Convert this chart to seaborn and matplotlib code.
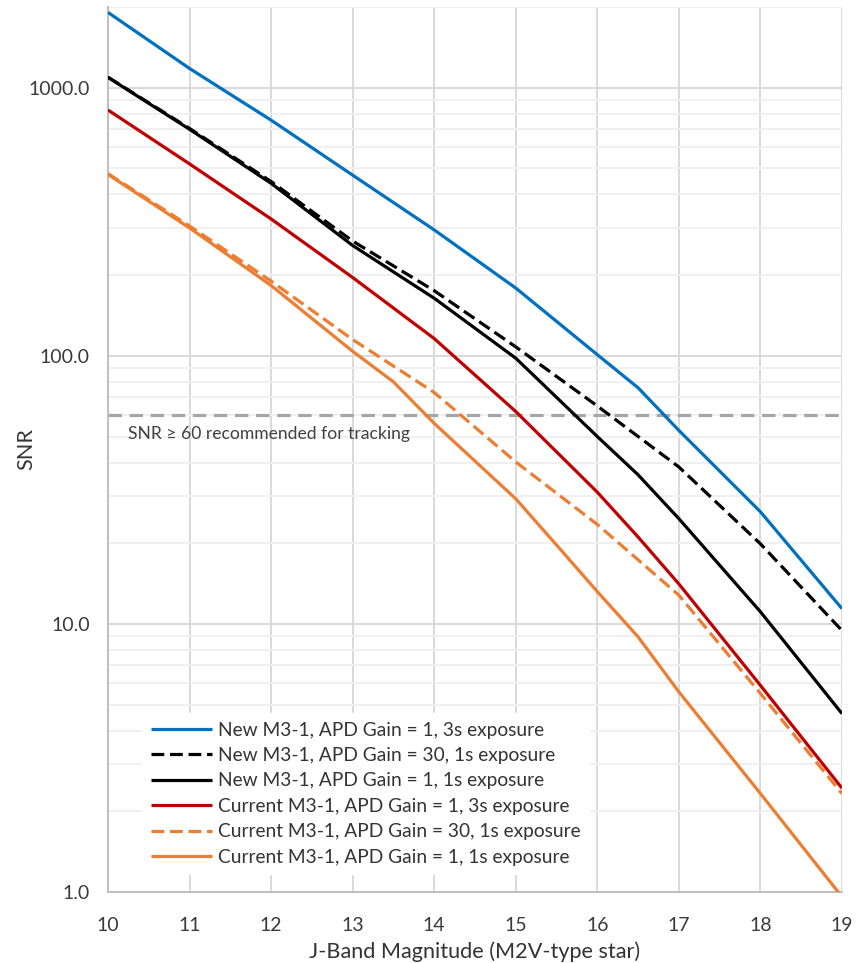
import matplotlib
matplotlib.use("Agg")
import matplotlib.pyplot as plt
from matplotlib.ticker import FixedLocator, FuncFormatter, LogLocator, NullFormatter
import seaborn as sns

# J-band magnitudes and SNR values for each instrument configuration
mag_new_g1_3s = [10, 11, 12, 13, 14, 15, 16, 16.5, 17, 18, 19]
snr_new_g1_3s = [1910, 1180, 757, 472, 295, 179, 101, 76, 52.7, 26.2, 11.4]

mag_new_g30_1s = [10, 11, 12, 13, 14, 15, 16, 17, 18, 19]
snr_new_g30_1s = [1095, 705, 447, 268, 175, 108, 65, 38.5, 19.9, 9.45]

mag_new_g1_1s = [10, 11, 12, 13, 14, 15, 16, 16.5, 17, 18, 19]
snr_new_g1_1s = [1093, 700, 440, 258, 164, 98, 50, 36, 24.7, 11.1, 4.63]

mag_cur_g1_3s = [10, 11, 12, 13, 14, 15, 16, 16.5, 17, 18, 19]
snr_cur_g1_3s = [826, 520, 324, 196, 116, 62, 31, 21.1, 14.1, 5.9, 2.44]

mag_cur_g30_1s = [10, 11, 12, 13, 14, 15, 16, 17, 18, 19]
snr_cur_g30_1s = [478, 305, 190, 115, 73, 40.2, 23.5, 12.8, 5.5, 2.33]

mag_cur_g1_1s = [10, 11, 12, 13, 13.5, 14, 15, 15.5, 16, 16.5, 17, 18, 19]
snr_cur_g1_1s = [475, 300, 183, 104, 80, 56, 29.3, 19.7, 13.2, 8.95, 5.58, 2.33, 0.96]

series_labels = [
    "New M3-1, APD Gain = 1, 3s exposure",
    "New M3-1, APD Gain = 30, 1s exposure",
    "New M3-1, APD Gain = 1, 1s exposure",
    "Current M3-1, APD Gain = 1, 3s exposure",
    "Current M3-1, APD Gain = 30, 1s exposure",
    "Current M3-1, APD Gain = 1, 1s exposure",
]

snr_threshold = 60
threshold_text = "SNR \u2265 60 recommended for tracking"
mag_ticks = [10, 11, 12, 13, 14, 15, 16, 17, 18, 19]
snr_ticks = [1, 10, 100, 1000]

sns.set_theme(style="white")
plt.rcParams["font.family"] = ["Lato", "DejaVu Sans"]

fig = plt.figure(figsize=(8.61, 9.63), dpi=100)
ax = fig.add_axes([0.1254, 0.0737, 0.8525, 0.9190])

dash = (0, (4.0, 1.8))
styles = [
    ("#0070C0", "-"),
    ("#000000", dash),
    ("#000000", "-"),
    ("#C00000", "-"),
    ("#ED7D31", dash),
    ("#ED7D31", "-"),
]
data = [
    (mag_new_g1_3s, snr_new_g1_3s),
    (mag_new_g30_1s, snr_new_g30_1s),
    (mag_new_g1_1s, snr_new_g1_1s),
    (mag_cur_g1_3s, snr_cur_g1_3s),
    (mag_cur_g30_1s, snr_cur_g30_1s),
    (mag_cur_g1_1s, snr_cur_g1_1s),
]

for (mags, snrs), (color, ls), label in zip(data, styles, series_labels):
    sns.lineplot(x=mags, y=snrs, ax=ax, color=color, linestyle=ls,
                 linewidth=2.3, label=label, errorbar=None, zorder=3,
                 solid_capstyle="butt", dash_capstyle="butt")

ax.set_yscale("log")
ax.set_xlim(10, 19)
ax.set_ylim(1, 2000)

# threshold line and note
ax.axhline(snr_threshold, color="#a6a6a6", linewidth=2.3,
           linestyle=(0, (4.2, 2.4)), zorder=2)
ax.text(10.245, snr_threshold * 0.855, threshold_text, fontsize=12.6,
        color="#404040", va="center", ha="left", zorder=4)

# grid: major vertical and horizontal, minor horizontal
ax.xaxis.set_major_locator(FixedLocator(mag_ticks))
ax.yaxis.set_major_locator(FixedLocator(snr_ticks))
ax.yaxis.set_minor_locator(LogLocator(base=10, subs=range(2, 10)))
ax.yaxis.set_minor_formatter(NullFormatter())
ax.yaxis.set_major_formatter(FuncFormatter(lambda v, _: f"{v:.1f}"))
ax.grid(True, which="major", color="#d9d9d9", linewidth=1.4, zorder=0)
ax.grid(True, which="minor", axis="y", color="#f0f0f0", linewidth=1.4, zorder=0)
ax.set_axisbelow(True)

for side in ("top", "right"):
    ax.spines[side].set_visible(False)
for side in ("left", "bottom"):
    ax.spines[side].set_color("#bfbfbf")
    ax.spines[side].set_linewidth(1.4)

ax.tick_params(axis="both", which="both", length=0, labelsize=14,
               labelcolor="#3a3a3a")
ax.tick_params(axis="y", pad=13)
ax.tick_params(axis="x", pad=18)

ax.set_xlabel("J-Band Magnitude (M2V-type star)", fontsize=15.6,
              color="#333333", labelpad=5.5)
ax.set_ylabel("SNR", fontsize=15.6, color="#333333")
ax.yaxis.set_label_coords(-0.098, 0.5)

leg = ax.legend(loc="lower left", bbox_to_anchor=(0.047, 0.020),
                borderaxespad=0, frameon=True, fontsize=13.8,
                handlelength=3.2, handletextpad=0.3, labelspacing=0.44,
                borderpad=0.45)
leg.get_frame().set_facecolor("white")
leg.get_frame().set_edgecolor("white")
leg.get_frame().set_alpha(1)
leg.get_frame().set_boxstyle("square", pad=0)
for t in leg.get_texts():
    t.set_color("#333333")

fig.savefig("out.png", dpi=100, facecolor="white")
